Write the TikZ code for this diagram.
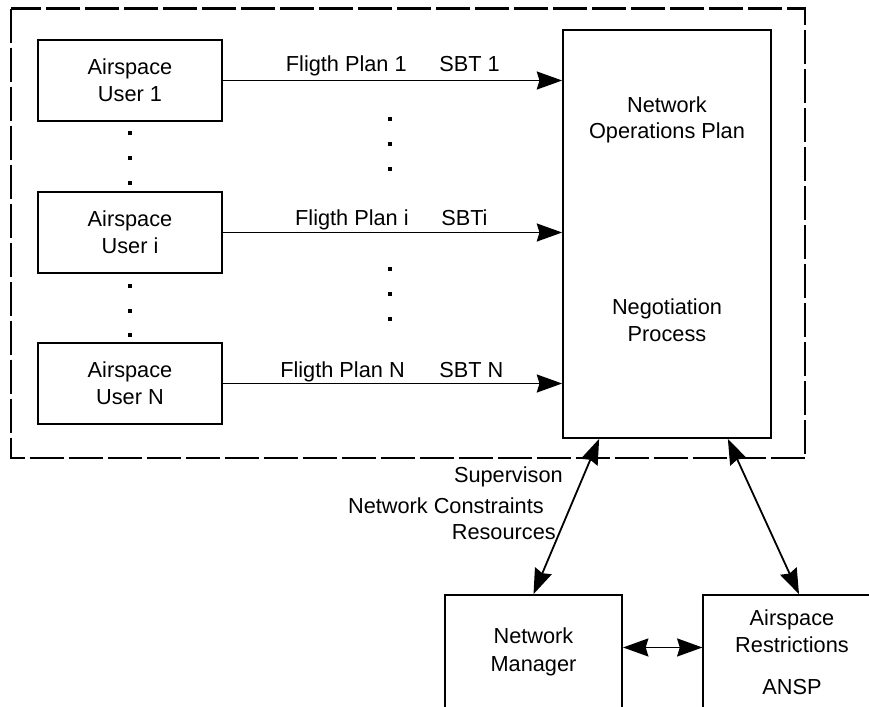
\documentclass[tikz,border=0pt]{standalone}
\usepackage{fontspec}
\setmainfont{Liberation Sans}
\usetikzlibrary{arrows.meta}
\begin{document}
\begin{tikzpicture}[x=0.75pt,y=-0.75pt,
  font=\fontsize{16.3}{20.25}\selectfont,
  >={Stealth[length=19pt,width=13.5pt,inset=2pt]},
  box/.style={draw,line width=1.3pt,inner sep=0pt,align=center},
  userbox/.style={box,minimum width=138pt,minimum height=60.75pt},
  lowbox/.style={box,minimum width=133pt,minimum height=97.5pt},
  flow/.style={line width=1.35pt},
  frame/.style={line width=2.1pt,dash pattern=on 25.5pt off 3.75pt},
  txt/.style={inner sep=0pt,anchor=base},
  dot/.style={fill=black}]
\clip (0,0) rectangle (869,707);
\fill[white] (0,0) rectangle (869,707);

% dashed boundary around the users and the operations plan
\draw[frame] (11,8.5) rectangle (805,458);

% airspace users
\node[userbox] (u1) at (130,80.5) {Airspace\\User 1};
\node[userbox] (ui) at (130,232.5) {Airspace\\User i};
\node[userbox] (un) at (130,383.5) {Airspace\\User N};

% network operations plan
\node[box,minimum width=156pt,minimum height=306pt] (nop) at (667,234) {};
\node[txt] (nopa) at (667,112) {Network};
\node[txt] (nopb) at (667,138) {Operations Plan};
\node[txt] (nega) at (667,314) {Negotiation};
\node[txt] (negb) at (667,341) {Process};

% network manager and ANSP
\node[lowbox] (nm) at (533.5,660) {};
\node[txt] (nma) at (533.5,643) {Network};
\node[txt] (nmb) at (533.5,671) {Manager};
\node[lowbox] (ar) at (792,660) {};
\node[txt] (ara) at (792,625) {Airspace};
\node[txt] (arb) at (792,652) {Restrictions};
\node[txt] (arc) at (792,694) {ANSP};

% flight plans sent to the operations plan
\draw[flow,->] (u1.east) -- (u1.east -| nop.west);
\draw[flow,->] (ui.east) -- (ui.east -| nop.west);
\draw[flow,->] (un.east) -- (un.east -| nop.west);
\node[txt,anchor=base east] (fp1) at (407,71) {Fligth Plan 1};
\node[txt,anchor=base west] (sb1) at (439,71) {SBT 1};
\node[txt,anchor=base east] (fpi) at (409,225) {Fligth Plan i};
\node[txt,anchor=base west] (sbi) at (441,225) {SBTi};
\node[txt,anchor=base east] (fpn) at (405,377) {Fligth Plan N};
\node[txt,anchor=base west] (sbn) at (439,377) {SBT N};

% ellipsis dots
\foreach \x/\y in {130/133,130/158,130/183,130/286,130/311,130/335,
                   390/119,390/144,390/169,390/269,390/294,390/319}
  \fill[dot] (\x-1.7,\y-1.7) rectangle (\x+1.7,\y+1.7);

% supervision and restriction links
\draw[flow,<->] ([xshift=27.75pt]nop.south west) -- (nm.north);
\draw[flow,<->] ([xshift=-33pt]nop.south east) -- ([xshift=5.25pt]ar.north);
\draw[flow,<->] ([yshift=9.4pt]nm.east) -- ([yshift=9.4pt]ar.west);
\node[txt,anchor=base east] (sup) at (563,482) {Supervison};
\node[txt,anchor=base east] (ncon) at (544,513) {Network Constraints};
\node[txt,anchor=base east] (res) at (556,539) {Resources};
\end{tikzpicture}
\end{document}
